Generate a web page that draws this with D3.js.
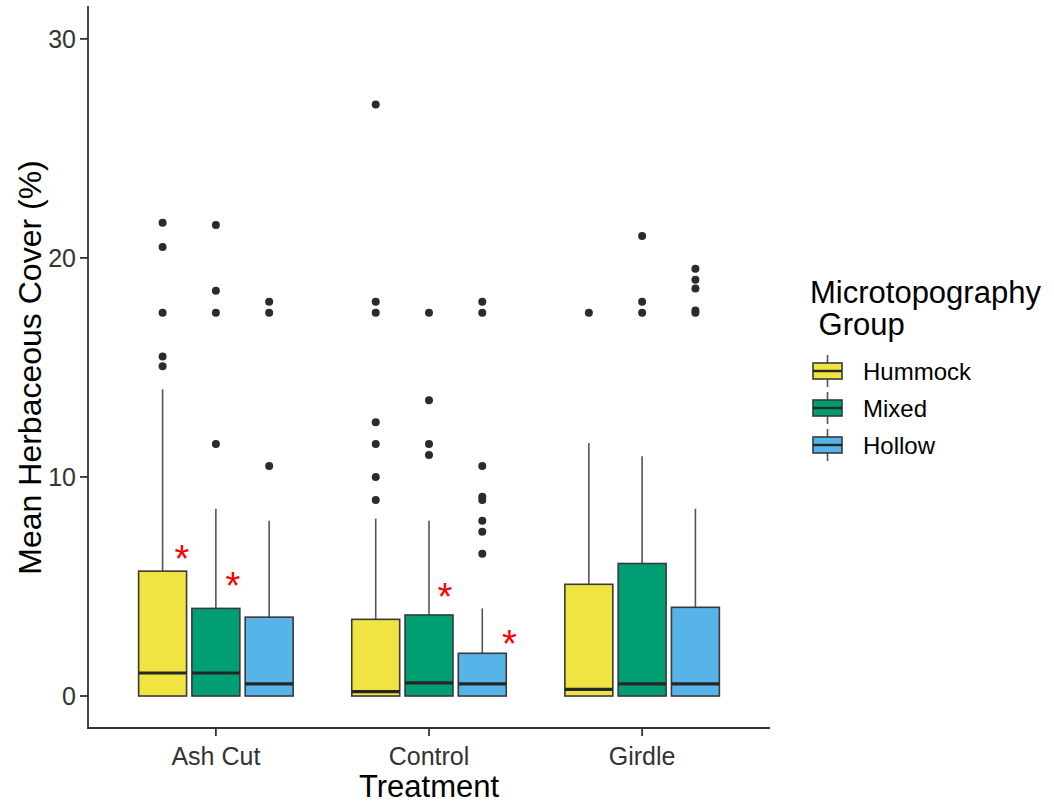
<!DOCTYPE html>
<html>
<head>
<meta charset="utf-8">
<script src="https://cdn.jsdelivr.net/npm/d3@7"></script>
<style>
  body { margin: 0; background: #fff; }
  svg text { font-family: "Liberation Sans", Arial, sans-serif; }
</style>
</head>
<body>
<svg id="chart" width="1054" height="805"></svg>
<script>
// Data
var treatments = ["Ash Cut", "Control", "Girdle"];
var groups = ["Hummock", "Mixed", "Hollow"];
var groupColors = ["#F0E442", "#009E73", "#56B4E9"];
var yTicks = [0, 10, 20, 30];

// one row per treatment, one value per group (Hummock, Mixed, Hollow)
var q1 = [[0, 0, 0], [0, 0, 0], [0, 0, 0]];
var medians = [[1.05, 1.05, 0.55], [0.2, 0.6, 0.55], [0.3, 0.55, 0.55]];
var q3 = [[5.7, 4.0, 3.6], [3.5, 3.7, 1.95], [5.1, 6.05, 4.05]];
var whiskerLow = [[0, 0, 0], [0, 0, 0], [0, 0, 0]];
var whiskerHigh = [[14.0, 8.55, 8.0], [8.1, 8.0, 4.0], [11.55, 10.95, 8.55]];

var outliers = [
  [[21.6, 20.5, 17.5, 15.5, 15.05], [21.5, 18.5, 17.5, 11.5], [18.0, 17.5, 10.5]],
  [[27.0, 18.0, 17.5, 12.5, 11.5, 10.0, 8.95], [17.5, 13.5, 11.5, 11.0], [18.0, 17.5, 10.5, 9.1, 8.95, 8.0, 7.5, 6.5]],
  [[17.5], [21.0, 18.0, 17.5], [19.5, 19.0, 18.6, 17.6, 17.5]]
];

// significance marks: treatment, group, offset from box centre (category units), value
var starTreatment = ["Ash Cut", "Ash Cut", "Control", "Control"];
var starGroup = ["Hummock", "Mixed", "Mixed", "Hollow"];
var starOffset = [0.09, 0.08, 0.075, 0.127];
var starValue = [6.67, 5.43, 4.9, 2.76];

var svg = d3.select("#chart");

var plotLeft = 88, plotRight = 770, plotTop = 6, plotBottom = 728;

var x = d3.scaleBand()
    .domain(treatments)
    .range([plotLeft, plotRight])
    .paddingInner(0)
    .paddingOuter(0.1);

var step = x.bandwidth();
var xg = d3.scaleBand()
    .domain(groups)
    .range([-0.375 * step, 0.375 * step]);
var boxW = xg.bandwidth() * 0.9;

var y = d3.scaleLinear()
    .domain([-1.46, 31.5])
    .range([plotBottom, plotTop]);

var color = d3.scaleOrdinal().domain(groups).range(groupColors);

function cx(t, g) {
    return x(t) + step / 2 + xg(g) + xg.bandwidth() / 2;
}

// Build records
var boxes = [];
treatments.forEach(function(t, i) {
    groups.forEach(function(g, j) {
        boxes.push({
            t: t, g: g,
            q1: q1[i][j], med: medians[i][j], q3: q3[i][j],
            lo: whiskerLow[i][j], hi: whiskerHigh[i][j],
            out: outliers[i][j]
        });
    });
});

var plot = svg.append("g").attr("class", "boxes");

// whiskers
plot.selectAll("line.whisker-hi")
    .data(boxes)
    .enter().append("line")
    .attr("x1", function(d) { return cx(d.t, d.g); })
    .attr("x2", function(d) { return cx(d.t, d.g); })
    .attr("y1", function(d) { return y(d.q3); })
    .attr("y2", function(d) { return y(d.hi); })
    .attr("stroke", "#555")
    .attr("stroke-width", 1.6);

// boxes
plot.selectAll("rect")
    .data(boxes)
    .enter().append("rect")
    .attr("x", function(d) { return cx(d.t, d.g) - boxW / 2; })
    .attr("width", boxW)
    .attr("y", function(d) { return y(d.q3); })
    .attr("height", function(d) { return y(d.q1) - y(d.q3); })
    .attr("fill", function(d) { return color(d.g); })
    .attr("stroke", "#3a3a3a")
    .attr("stroke-width", 1.6);

// medians
plot.selectAll("line.median")
    .data(boxes)
    .enter().append("line")
    .attr("x1", function(d) { return cx(d.t, d.g) - boxW / 2; })
    .attr("x2", function(d) { return cx(d.t, d.g) + boxW / 2; })
    .attr("y1", function(d) { return y(d.med); })
    .attr("y2", function(d) { return y(d.med); })
    .attr("stroke", "#262626")
    .attr("stroke-width", 3.2);

// outliers
var pts = [];
boxes.forEach(function(b) {
    b.out.forEach(function(v) { pts.push({ t: b.t, g: b.g, v: v }); });
});
plot.selectAll("circle")
    .data(pts)
    .enter().append("circle")
    .attr("cx", function(d) { return cx(d.t, d.g); })
    .attr("cy", function(d) { return y(d.v); })
    .attr("r", 4)
    .attr("fill", "#2b2b2b");

// asterisks
var starFs = 38;
plot.selectAll("text.star")
    .data(starValue)
    .enter().append("text")
    .attr("class", "star")
    .attr("x", function(d, i) { return cx(starTreatment[i], starGroup[i]) + starOffset[i] * step; })
    .attr("y", function(d) { return y(d) + 0.57 * starFs; })
    .attr("text-anchor", "middle")
    .style("font-size", starFs + "px")
    .attr("fill", "#FF0000")
    .text("*");

// Axes
var axisCol = "#333";
svg.append("line")
    .attr("x1", plotLeft).attr("x2", plotLeft)
    .attr("y1", plotTop).attr("y2", plotBottom + 1)
    .attr("stroke", axisCol).attr("stroke-width", 1.8);
svg.append("line")
    .attr("x1", plotLeft - 1).attr("x2", plotRight)
    .attr("y1", plotBottom).attr("y2", plotBottom)
    .attr("stroke", axisCol).attr("stroke-width", 1.8);

var yAxis = svg.append("g");
yAxis.selectAll("line")
    .data(yTicks)
    .enter().append("line")
    .attr("x1", plotLeft - 8).attr("x2", plotLeft)
    .attr("y1", function(d) { return y(d); })
    .attr("y2", function(d) { return y(d); })
    .attr("stroke", axisCol).attr("stroke-width", 1.8);
yAxis.selectAll("text")
    .data(yTicks)
    .enter().append("text")
    .attr("x", plotLeft - 12)
    .attr("y", function(d) { return y(d); })
    .attr("dy", "0.36em")
    .attr("text-anchor", "end")
    .style("font-size", "25px")
    .attr("fill", "#333")
    .text(function(d) { return d; });

var xAxis = svg.append("g");
xAxis.selectAll("line")
    .data(treatments)
    .enter().append("line")
    .attr("x1", function(d) { return x(d) + step / 2; })
    .attr("x2", function(d) { return x(d) + step / 2; })
    .attr("y1", plotBottom).attr("y2", plotBottom + 8)
    .attr("stroke", axisCol).attr("stroke-width", 1.8);
xAxis.selectAll("text")
    .data(treatments)
    .enter().append("text")
    .attr("x", function(d) { return x(d) + step / 2; })
    .attr("y", 765)
    .attr("text-anchor", "middle")
    .style("font-size", "25px")
    .attr("fill", "#333")
    .text(function(d) { return d; });

// Axis titles
svg.append("text")
    .attr("x", (plotLeft + plotRight) / 2)
    .attr("y", 797)
    .attr("text-anchor", "middle")
    .style("font-size", "31px")
    .attr("fill", "#000")
    .text("Treatment");

svg.append("text")
    .attr("transform", "translate(41," + (y(0) + y(30)) / 2 + ") rotate(-90)")
    .attr("text-anchor", "middle")
    .style("font-size", "32px")
    .attr("fill", "#000")
    .text("Mean Herbaceous Cover (%)");

// Legend
var legend = svg.append("g").attr("class", "legend");
legend.append("text")
    .attr("x", 810).attr("y", 303)
    .style("font-size", "31px")
    .attr("fill", "#000")
    .text("Microtopography");
legend.append("text")
    .attr("x", 810).attr("y", 335)
    .style("font-size", "31px")
    .style("white-space", "pre")
    .attr("fill", "#000")
    .text(" Group");

var keyX = 813, keyW = 29, keyH = 37, keyTop = 353;
var keys = legend.selectAll("g.key")
    .data(groups)
    .enter().append("g")
    .attr("class", "key")
    .attr("transform", function(d, i) { return "translate(" + keyX + "," + (keyTop + i * keyH) + ")"; });

keys.append("line")
    .attr("x1", keyW / 2).attr("x2", keyW / 2)
    .attr("y1", 2).attr("y2", keyH - 3)
    .attr("stroke", "#555").attr("stroke-width", 1.6);
keys.append("rect")
    .attr("x", 0).attr("y", 10)
    .attr("width", keyW).attr("height", 16)
    .attr("fill", function(d) { return color(d); })
    .attr("stroke", "#3a3a3a").attr("stroke-width", 1.6);
keys.append("line")
    .attr("x1", 0).attr("x2", keyW)
    .attr("y1", 18).attr("y2", 18)
    .attr("stroke", "#262626").attr("stroke-width", 2.4);
keys.append("text")
    .attr("x", 50).attr("y", 18)
    .attr("dy", "0.36em")
    .style("font-size", "24px")
    .attr("fill", "#000")
    .text(function(d) { return d; });
</script>
</body>
</html>
